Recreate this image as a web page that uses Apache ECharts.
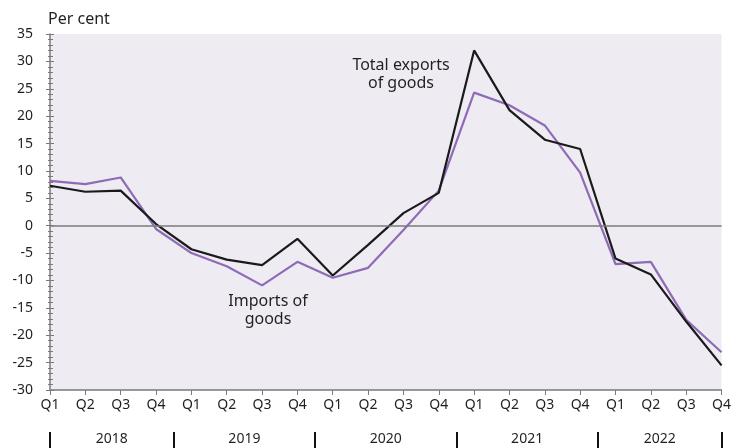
<!DOCTYPE html>
<html>
<head>
<meta charset="utf-8">
<title>Exports and imports of goods</title>
<style type="text/css">
  html, body { margin: 0; padding: 0; background: #fff; }
  #main { width: 734px; height: 448px; }
</style>
</head>
<body>
<div id="main"></div>
<script type="text/javascript" src="https://cdn.jsdelivr.net/npm/echarts@6/dist/echarts.min.js"></script>
<script type="text/javascript">
  var quarters = ['Q1','Q2','Q3','Q4','Q1','Q2','Q3','Q4','Q1','Q2','Q3','Q4',
                  'Q1','Q2','Q3','Q4','Q1','Q2','Q3','Q4'];
  var years = ['2018', '2019', '2020', '2021', '2022'];
  // year label positions and separators, in quarter-index units
  var yearCentres = [1.75, 5.5, 9.5, 13.5, 17.25];
  var yearBreaks = [0, 3.5, 7.5, 11.5, 15.5, 19];

  var exportsGoods = [7.3, 6.2, 6.4, 0.3, -4.3, -6.2, -7.2, -2.4, -9.1, -3.5, 2.3, 6.0,
                      32.0, 21.1, 15.7, 14.0, -6.0, -8.9, -17.5, -25.5];
  var importsGoods = [8.2, 7.6, 8.8, -0.6, -5.0, -7.4, -10.9, -6.6, -9.5, -7.7, -0.8, 6.4,
                      24.3, 22.0, 18.3, 9.7, -7.0, -6.6, -17.2, -23.1];

  var font = 'Noto Sans';
  var textColor = '#231f20';
  var axisGrey = '#7a7a7a';

  var myChart = echarts.init(document.getElementById('main'));

  var option = {
    animation: false,
    textStyle: { fontFamily: font },
    grid: {
      left: 50, right: 12, top: 34, bottom: 58,
      show: true, backgroundColor: '#eeebf2', borderWidth: 0
    },
    xAxis: [
      {
        type: 'category',
        data: quarters,
        boundaryGap: false,
        axisLine: { onZero: false, lineStyle: { color: axisGrey, width: 1.5 } },
        axisTick: { show: true, length: 5, interval: 0, lineStyle: { color: axisGrey } },
        axisLabel: { interval: 0, color: textColor, fontSize: 14, margin: 8, fontFamily: font },
        splitLine: { show: false }
      },
      {
        type: 'value',
        position: 'bottom',
        offset: 42,
        min: 0,
        max: 19,
        axisLine: { show: false, onZero: false },
        axisTick: {
          show: true, inside: false, length: 16,
          customValues: yearBreaks,
          lineStyle: { color: '#111', width: 2 }
        },
        axisLabel: {
          customValues: yearCentres,
          margin: 0,
          color: textColor, fontSize: 14, fontFamily: font,
          formatter: function (v) {
            return years[yearCentres.indexOf(v)];
          }
        },
        splitLine: { show: false }
      }
    ],
    yAxis: [
      {
        type: 'value',
        min: -30, max: 35, interval: 5,
        name: 'Per cent',
        nameLocation: 'end',
        nameGap: 7,
        nameTextStyle: { color: textColor, fontSize: 16, align: 'left', padding: [0, 0, 0, -2], fontFamily: font },
        axisLine: { show: true, onZero: false, lineStyle: { color: axisGrey, width: 1.5 } },
        axisTick: { show: true, length: 4, lineStyle: { color: axisGrey } },
        minorTick: { show: true, splitNumber: 5, length: 2, lineStyle: { color: axisGrey } },
        axisLabel: { color: textColor, fontSize: 14, margin: 17, fontFamily: font },
        splitLine: { show: false }
      },
      {
        // same scale again, only to draw the tick halves inside the plot
        type: 'value',
        position: 'left',
        min: -30, max: 35, interval: 5,
        axisLine: { show: false, onZero: false },
        axisTick: { show: true, inside: true, length: 4, lineStyle: { color: axisGrey } },
        minorTick: { show: true, splitNumber: 5, length: 3, lineStyle: { color: axisGrey } },
        axisLabel: { show: false },
        splitLine: { show: false }
      }
    ],
    series: [
      {
        name: 'Imports of goods',
        type: 'line',
        data: importsGoods,
        symbol: 'none',
        lineStyle: { color: '#8e6bb6', width: 2.2 },
        markLine: {
          silent: true,
          symbol: 'none',
          label: { show: false },
          lineStyle: { color: axisGrey, width: 1.5, type: 'solid' },
          data: [{ yAxis: 0 }]
        },
        z: 3
      },
      {
        name: 'Total exports of goods',
        type: 'line',
        data: exportsGoods,
        symbol: 'none',
        lineStyle: { color: '#1a1a1a', width: 2.2 },
        z: 4
      }
    ],
    graphic: [
      {
        type: 'text', x: 401, y: 56,
        style: {
          text: 'Total exports\nof goods', fill: textColor, font: '16px "Noto Sans"',
          lineHeight: 18, align: 'center', verticalAlign: 'top'
        }
      },
      {
        type: 'text', x: 268, y: 292,
        style: {
          text: 'Imports of\ngoods', fill: textColor, font: '16px "Noto Sans"',
          lineHeight: 18, align: 'center', verticalAlign: 'top'
        }
      }
    ]
  };

  myChart.setOption(option);
</script>
</body>
</html>
